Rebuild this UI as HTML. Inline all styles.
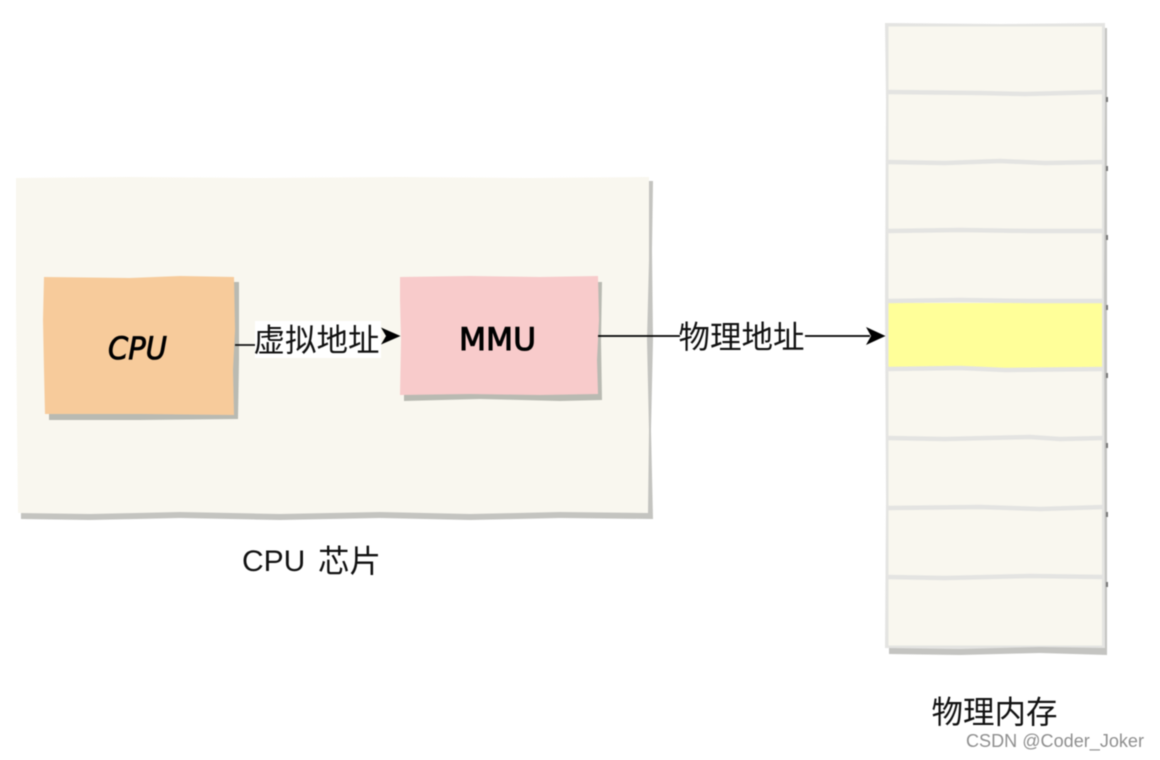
<!DOCTYPE html>
<html><head><meta charset="utf-8">
<style>
html,body{margin:0;padding:0;background:#fff;width:1160px;height:760px;overflow:hidden}
svg{display:block}
.cjk{font-family:"Liberation Sans","Noto Sans CJK SC",sans-serif;fill:#111}
.hand{font-family:"DejaVu Sans",sans-serif;fill:#000;stroke:#000}
</style></head>
<body>
<svg width="1160" height="760" viewBox="0 0 1160 760" xmlns="http://www.w3.org/2000/svg">
<g style="filter:blur(0.4px)">
<!-- CPU chip container -->
<path d="M21 182 L653 181 L652 250 L653 340 L651 430 L653 519 L560 518 L470 520 L380 518 L280 520 L180 518 L90 520 L21 519Z" fill="#c4c4c0"/>
<path d="M16 178 L130 177 L260 178 L400 177 L530 178 L649 177 L649 260 L647 340 L649 430 L648 513 L560 512 L470 514 L380 512 L280 514 L180 512 L90 514 L18 513 L17 420 L16 300Z" fill="#f9f7ef"/>

<!-- CPU -->
<path d="M49 282 L239 282 L239 360 L238 419 L140 420 L49 420Z" fill="#b9bab2"/>
<path d="M44 277 L130 278 L180 276 L234 277 L235 330 L233 370 L234 415 L140 414 L45 414 L44 370 L43 320Z" fill="#f7cb9b"/>
<text class="hand" x="137.500" y="359" font-size="31" text-anchor="middle" textLength="59" lengthAdjust="spacingAndGlyphs" font-style="oblique" stroke-width="0.8">CPU</text>

<!-- MMU -->
<path d="M404 282 L602 282 L601 340 L602 400 L560 401 L480 399 L404 401Z" fill="#b9bab2"/>
<path d="M400 277 L470 276 L540 277 L598 276 L599 320 L597 360 L598 394 L540 395 L470 394 L400 395 L401 340 L400 300Z" fill="#f8cbcb"/>
<text class="hand" x="497.500" y="350" font-size="31" text-anchor="middle" textLength="77" lengthAdjust="spacingAndGlyphs" stroke-width="1">MMU</text>

<!-- Physical memory -->
<path d="M889 30 L1107 28 L1107 655 L1040 653 L960 655 L889 654Z" fill="#c4c4c1"/>
<path d="M885 23 L1000 24 L1105 23 L1105 100 L1104 300 L1105 648 L1040 647 L960 649 L885 648 L886 500 L885 300 L886 100Z" fill="#e4e4e2"/>
<rect x="888.500" y="26.500" width="213.500" height="619" fill="#f9f7ef"/>
<rect x="888.500" y="303" width="213.500" height="65" fill="#ffff99"/>
<g fill="none" stroke="#e4e4e2" stroke-width="4.500">
<path d="M886 92 L980 93 L1025 94 L1104 92"/>
<path d="M886 162 L945 163 L1000 161 L1045 163 L1104 162"/>
<path d="M886 231 L960 230 L1030 231 L1104 231"/>
<path d="M886 301 L960 300 L1030 301 L1104 301"/>
<path d="M886 369 L960 368 L1005 370 L1104 369"/>
<path d="M886 438 L945 439 L1030 437 L1060 439 L1104 438"/>
<path d="M886 508 L980 507 L1040 509 L1104 507"/>
<path d="M886 577 L945 578 L1030 576 L1104 577"/>
</g>
<g fill="#777">
<rect x="1106" y="97" width="2" height="5"/><rect x="1106" y="166" width="2" height="5"/><rect x="1106" y="235" width="2" height="5"/><rect x="1106" y="305" width="2" height="5"/><rect x="1106" y="373" width="2" height="5"/><rect x="1106" y="443" width="2" height="5"/><rect x="1106" y="512" width="2" height="5"/><rect x="1106" y="582" width="2" height="5"/>
</g>

<!-- Connectors -->
<path d="M235 345 L256 345" stroke="#111" stroke-width="1.800" fill="none"/>
<rect x="255" y="321" width="126" height="37" fill="#fff"/>
<text class="cjk" x="253.500" y="351" font-size="31.500">虚拟地址</text>
<path d="M400.500 336 L381 327.500 L386 336 L381 344.500Z" fill="#000"/>

<path d="M598 336 L680 336 M805 336 L870 336" stroke="#000" stroke-width="1.800" fill="none"/>
<path d="M885.500 336 L866 327 L871 336 L866 345Z" fill="#000"/>
<text class="cjk" x="678.500" y="348" font-size="31.500">物理地址</text>

<!-- Labels -->
<text class="cjk" x="242" y="571" font-size="30">CPU</text>
<text class="cjk" x="318" y="572" font-size="31.500">芯片</text>
<text class="cjk" x="931.500" y="723" font-size="31.500">物理内存</text>
<text x="966" y="747" font-size="18" fill="#8f8f8f" font-family="'Liberation Sans',sans-serif" textLength="178" lengthAdjust="spacingAndGlyphs">CSDN @Coder_Joker</text>
</g>
</svg>
</body></html>
